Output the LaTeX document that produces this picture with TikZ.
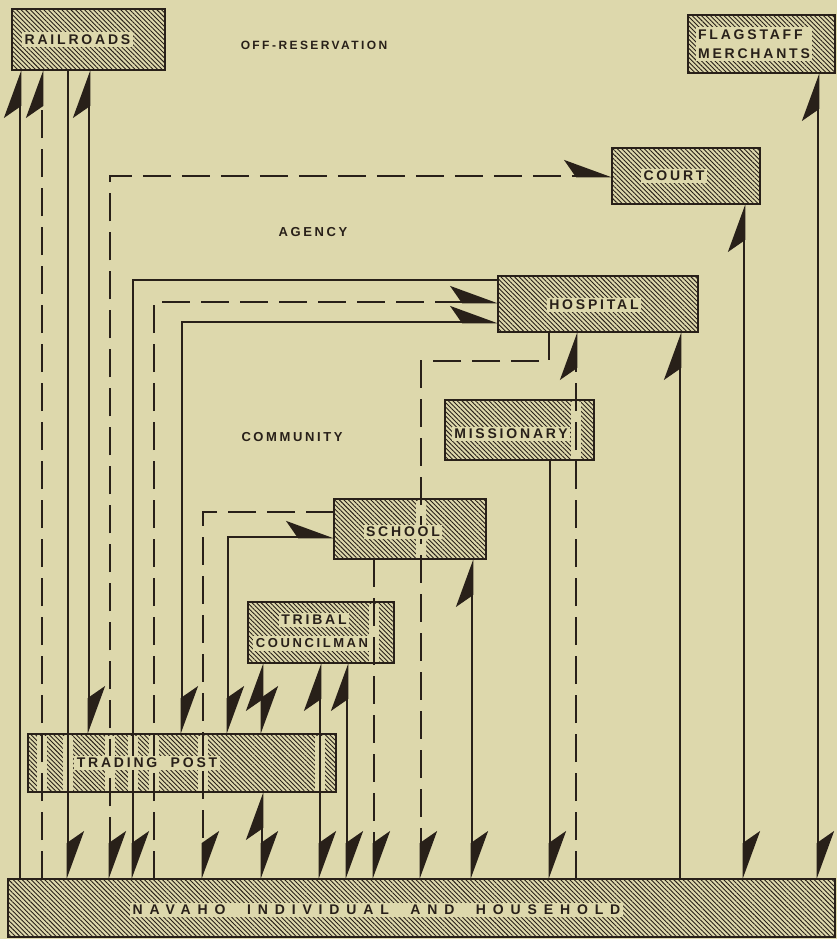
\documentclass[tikz,border=0pt]{standalone}
\usepackage{fontspec}
\usetikzlibrary{arrows.meta, patterns.meta}
\setmainfont{Liberation Sans}
\newfontfamily\boxfont{Liberation Sans}[LetterSpace=20]
\newfontfamily\navfont{Liberation Sans}[LetterSpace=49]
\definecolor{paper}{RGB}{221,216,172}
\definecolor{ink}{RGB}{40,32,25}

\begin{document}
\begin{tikzpicture}[x=1pt, y=-1pt,
  every node/.style={inner sep=0pt, outer sep=0pt},
  hatched/.style={draw=ink, line width=2.4pt,
                  pattern={Lines[angle=135, distance=3.2pt, line width=0.9pt]},
                  pattern color=ink},
  lab/.style={fill=paper, inner sep=2.5pt, text=ink,
              font=\boxfont\bfseries\fontsize{14}{18}\selectfont},
  zone/.style={text=ink, font=\boxfont\bfseries\fontsize{13}{15}\selectfont},
  link/.style={draw=ink, line width=2.8pt},
  dlink/.style={link, dash pattern=on 28pt off 11pt},
  gap/.style={draw=paper, line width=10pt, shorten <=1.5pt, shorten >=1.5pt},
  >={Stealth[harpoon, length=44pt, width=32pt, inset=11pt]}]
\path[use as bounding box, fill=paper] (0,0) rectangle (837,939);

% boxes
\node[hatched, minimum width=153pt, minimum height=61pt] (rr) at (88.5,39.5) {};
\node[hatched, minimum width=147pt, minimum height=58pt] (fm) at (761.5,44) {};
\node[hatched, minimum width=148pt, minimum height=56pt] (court) at (686,176) {};
\node[hatched, minimum width=200pt, minimum height=56pt] (hosp) at (598,304) {};
\node[hatched, minimum width=149pt, minimum height=60pt] (miss) at (519.5,430) {};
\node[hatched, minimum width=152pt, minimum height=60pt] (school) at (410,529) {};
\node[hatched, minimum width=146pt, minimum height=61pt] (tc) at (321,632.5) {};
\node[hatched, minimum width=308pt, minimum height=58pt] (tp) at (182,763) {};
\node[hatched, minimum width=827pt, minimum height=58pt] (nav) at (421.5,908) {};

% clear strips where a line runs through a box
\foreach \x in {42,68,110,133,154,203,320}
  \draw[gap] (tp.north -| \x,0) -- (tp.south -| \x,0);
\draw[gap] (tc.north -| 374,0) -- (tc.south -| 374,0);
\draw[gap] (school.north -| 421,0) -- (school.south -| 421,0);
\draw[gap] (miss.north -| 576,0) -- (miss.south -| 576,0);

% railroads
\draw[link, ->] (nav.north -| 20,0) -- (rr.south -| 20,0);
\draw[dlink, ->] (nav.north -| 42,0) -- (rr.south -| 42,0);
\draw[link, ->] (rr.south -| 68,0) -- (nav.north -| 68,0);
\draw[link, <->] (rr.south -| 89,0) -- (tp.north -| 89,0);
% court and hospital
\draw[dlink, <->] (nav.north -| 110,0) |- (court.west);
\draw[link, ->] (hosp.west |- 0,280) -| (nav.north -| 133,0);
\draw[dlink, ->] (nav.north -| 154,0) |- (hosp.west |- 0,302);
\draw[link, <->] (tp.north -| 182,0) |- (hosp.west |- 0,322);
% school
\draw[dlink, ->] (school.west |- 0,512) -| (nav.north -| 203,0);
\draw[link, <->] (tp.north -| 228,0) |- (school.west |- 0,537);
% tribal councilman
\draw[link, <->] (tc.south -| 262,0) -- (tp.north -| 262,0);
\draw[link, <->] (tp.south -| 262,0) -- (nav.north -| 262,0);
\draw[link, <->] (tc.south -| 320,0) -- (nav.north -| 320,0);
\draw[link, <->] (tc.south -| 347,0) -- (nav.north -| 347,0);
\draw[dlink, ->] (school.south -| 374,0) -- (nav.north -| 374,0);
\draw[dlink, ->] (hosp.south -| 549,0) |- (421,361) -- (nav.north -| 421,0);
\draw[link, <->] (school.south -| 472,0) -- (nav.north -| 472,0);
% missionary, hospital, court, merchants
\draw[link, ->] (miss.south -| 550,0) -- (nav.north -| 550,0);
\draw[dlink, ->] (nav.north -| 576,0) -- (hosp.south -| 576,0);
\draw[link, ->] (nav.north -| 680,0) -- (hosp.south -| 680,0);
\draw[link, <->] (court.south -| 744,0) -- (nav.north -| 744,0);
\draw[link, <->] (fm.south -| 818,0) -- (nav.north -| 818,0);

% texts
\node[lab] (rrtext) at ([xshift=-11pt]rr.center) {RAILROADS};
\node[lab, align=left] (fmtext) at ([xshift=-7.5pt]fm.center) {FLAGSTAFF\\[1pt]MERCHANTS};
\node[lab] (courttext) at ([xshift=-12pt]court.center) {COURT};
\node[lab] (hosptext) at ([xshift=-4pt, yshift=-1pt]hosp.center) {HOSPITAL};
\node[lab] (misstext) at ([xshift=-8.5pt, yshift=-4pt]miss.center) {MISSIONARY};
\node[lab] (schooltext) at ([xshift=-7pt, yshift=-3pt]school.center) {SCHOOL};
\node[lab] (tctext1) at (314,620) {TRIBAL};
\node[lab, font=\boxfont\bfseries\fontsize{13}{16}\selectfont] (tctext2)
  at (312,643.5) {COUNCILMAN};
\node[lab] (tptext) at ([xshift=-35pt]tp.center) {TRADING~~POST};
\node[lab, font=\navfont\bfseries\fontsize{14}{16}\selectfont] (navtext)
  at ([xshift=-45pt, yshift=-2pt]nav.center) {NAVAHO~~INDIVIDUAL~~AND~~HOUSEHOLD};
\node[zone, font=\boxfont\bfseries\fontsize{12}{15}\selectfont] (offres)
  at (314,45) {OFF\hspace{2.5pt}-\hspace{2.5pt}RESERVATION};
\node[zone] (agency) at (313,232) {AGENCY};
\node[zone] (community) at (292,437) {COMMUNITY};
\end{tikzpicture}
\end{document}
